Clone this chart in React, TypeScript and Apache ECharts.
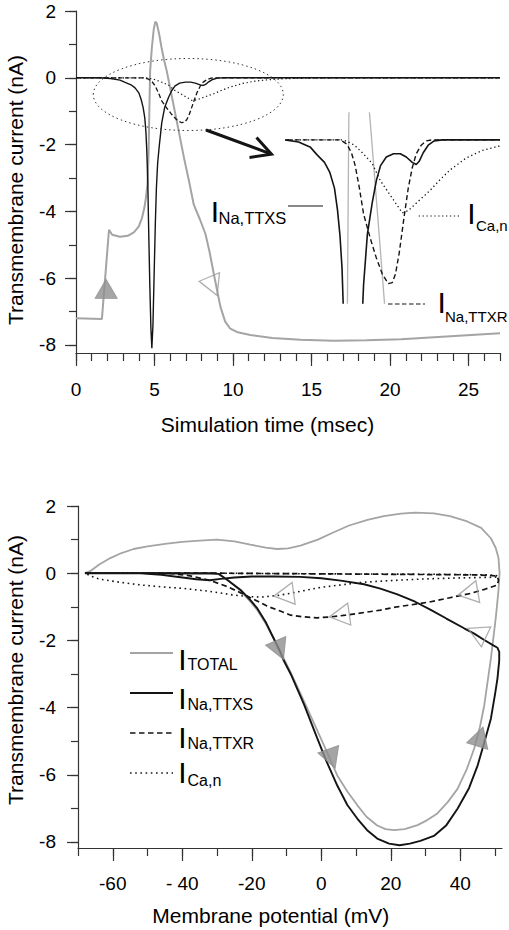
import { useEffect, useRef } from 'react';
import * as echarts from 'echarts';

// ---------- Top panel: time courses (t in msec, I in nA) ----------
const timeTotal: number[][] = [
  [0, -7.2], [1.65, -7.22], [2.1, -4.55], [2.3, -4.7], [2.8, -4.76], [3.3, -4.73], [3.7, -4.62],
  [4.0, -4.45], [4.2, -4.2], [4.35, -3.9], [4.45, -3.6], [4.55, -3.2], [4.62, -2.3], [4.67, -1.0],
  [4.72, 0.2], [4.83, 0.9], [4.95, 1.45], [5.05, 1.68], [5.15, 1.62], [5.3, 1.3], [5.45, 0.9],
  [5.6, 0.55], [5.78, 0.2], [6.1, -0.55], [6.5, -1.5], [6.9, -2.45], [7.2, -3.1], [7.5, -3.8],
  [7.9, -4.25], [8.24, -4.67], [8.5, -5.2], [8.77, -5.86], [9.0, -6.4], [9.2, -6.86], [9.5, -7.3],
  [9.8, -7.5], [10.3, -7.62], [11.1, -7.7], [12.5, -7.79], [14.3, -7.84], [16.4, -7.87],
  [18.5, -7.86], [20.7, -7.83], [22.8, -7.77], [24.9, -7.71], [27, -7.65],
];
const timeNaTTXS: number[][] = [
  [0, 0], [1.5, 0], [2.2, -0.02], [2.8, -0.07], [3.13, -0.14], [3.5, -0.21], [3.76, -0.3],
  [4.0, -0.45], [4.15, -0.65], [4.28, -0.9], [4.38, -1.2], [4.45, -1.6], [4.51, -2.2], [4.57, -3.1],
  [4.63, -4.6], [4.7, -6.2], [4.77, -7.5], [4.83, -8.1], [4.9, -7.4], [4.97, -6.0], [5.05, -4.4],
  [5.12, -3.3], [5.2, -2.55], [5.3, -2.05], [5.46, -1.35], [5.65, -0.88], [5.89, -0.59],
  [6.1, -0.38], [6.31, -0.24], [6.6, -0.16], [6.96, -0.13], [7.3, -0.13], [7.6, -0.16],
  [7.9, -0.21], [8.1, -0.23], [8.25, -0.2], [8.45, -0.12], [8.7, -0.05], [9.0, -0.01], [9.4, 0],
  [27, 0],
];
const timeNaTTXR: number[][] = [
  [0, 0], [4.3, 0], [4.62, -0.04], [4.85, -0.12], [5.04, -0.24], [5.25, -0.45], [5.46, -0.69],
  [5.8, -0.92], [6.1, -1.1], [6.4, -1.25], [6.7, -1.34], [6.9, -1.33], [7.06, -1.25],
  [7.25, -1.05], [7.49, -0.72], [7.7, -0.45], [7.9, -0.26], [8.1, -0.13], [8.35, -0.05],
  [8.6, -0.01], [8.9, 0], [27, 0],
];
const timeCaN: number[][] = [
  [0, 0], [4.4, 0], [4.7, -0.02], [5.0, -0.05], [5.4, -0.12], [5.89, -0.22], [6.3, -0.38],
  [6.96, -0.56], [7.4, -0.68], [7.7, -0.66], [8.1, -0.59], [8.8, -0.47], [9.3, -0.37],
  [9.8, -0.28], [10.6, -0.17], [11.4, -0.1], [12.2, -0.06], [13.2, -0.03], [14.5, -0.01],
  [16, 0], [27, 0],
];

// ---------- Bottom panel: current vs membrane potential (trajectory order) ----------
const phaseTotal: number[][] = [
  [-68, 0], [-60, 0], [-50, 0], [-40, -0.02], [-32, -0.02], [-29.5, -0.03], [-27, -0.2],
  [-23.3, -0.52], [-20.4, -0.85], [-18.4, -1.1], [-16, -1.5], [-13.7, -1.94], [-11, -2.5],
  [-8.8, -2.95], [-4, -4.03], [0.75, -5.12], [4.6, -6.02], [7.5, -6.5], [10.4, -6.91],
  [13, -7.25], [16.1, -7.51], [18.5, -7.62], [20.9, -7.65], [24, -7.62], [27.7, -7.5],
  [30.5, -7.35], [33.4, -7.15], [36.5, -6.8], [39.2, -6.42], [41.8, -5.85], [44, -5.22],
  [45.6, -4.6], [46.9, -3.93], [48.8, -2.54], [50.2, -1.34], [51, -0.5], [51.3, 0], [51, 0.45],
  [50.2, 0.75], [48.8, 1.04], [46, 1.35], [42, 1.54], [37, 1.7], [32.4, 1.78], [27, 1.8],
  [22.9, 1.77], [18, 1.7], [13.3, 1.59], [8, 1.42], [3.6, 1.22], [-1, 1.0], [-6, 0.82],
  [-9.5, 0.74], [-12.7, 0.72], [-16, 0.76], [-20.4, 0.85], [-25, 0.95], [-30, 1.0], [-35, 0.97],
  [-40, 0.93], [-44.4, 0.88], [-50, 0.8], [-54, 0.72], [-57.5, 0.6], [-60.7, 0.45], [-64, 0.25],
  [-66.5, 0.06], [-68, 0],
];
const phaseNaTTXS: number[][] = [
  [-68, 0], [-60, 0], [-52, 0], [-40, 0], [-32, 0], [-29.5, -0.02], [-27, -0.2], [-23.2, -0.5],
  [-20.4, -0.8], [-18.4, -1.05], [-16, -1.45], [-14.6, -1.75], [-12, -2.3], [-10.8, -2.6],
  [-8.8, -3.0], [-5, -3.9], [-1.2, -4.9], [1.5, -5.6], [4.6, -6.32], [7.5, -6.9], [10.4, -7.31],
  [13.2, -7.65], [16.1, -7.9], [19.5, -8.05], [22.5, -8.1], [25.5, -8.05], [28.5, -7.97],
  [32.4, -7.82], [36, -7.5], [39.2, -7.01], [42.5, -6.4], [45, -5.72], [47, -5.0], [48.8, -4.33],
  [50, -3.6], [50.7, -3.13], [51.2, -2.6], [51.2, -2.34], [50.7, -2.22], [49.5, -2.15],
  [46.9, -1.99], [44, -1.8], [41.1, -1.64], [36, -1.35], [31.5, -1.09], [27, -0.85],
  [21.9, -0.63], [17, -0.46], [12.3, -0.33], [5.6, -0.22], [0, -0.15], [-6, -0.11],
  [-13.7, -0.1], [-20, -0.1], [-25, -0.13], [-29, -0.17], [-32, -0.21], [-36, -0.18],
  [-40.5, -0.12], [-46, -0.05], [-52, 0], [-60, 0], [-68, 0],
];
const phaseNaTTXR: number[][] = [
  [-68, 0], [-40, 0], [-30, 0], [0, -0.02], [30, -0.04], [45, -0.05], [50.5, -0.08], [51, -0.2],
  [50.7, -0.35], [47, -0.48], [43, -0.6], [37, -0.73], [31.5, -0.85], [26, -0.94], [21.9, -1.0],
  [17, -1.1], [12.3, -1.17], [7, -1.25], [2.7, -1.3], [-1.2, -1.33], [-5, -1.3], [-8.8, -1.25],
  [-12, -1.12], [-15.6, -0.98], [-18, -0.85], [-20.4, -0.73], [-23.3, -0.58], [-27, -0.4],
  [-31.9, -0.22], [-37.7, -0.08], [-43, -0.01], [-48, 0], [-68, 0],
];
const phaseCaN: number[][] = [
  [-68, 0], [-40, 0], [-30, 0], [0, -0.02], [30, -0.03], [48, -0.05], [51, -0.08], [50, -0.12],
  [40, -0.14], [30, -0.17], [20, -0.22], [12, -0.27], [5.6, -0.35], [0, -0.42], [-5, -0.52],
  [-8.9, -0.6], [-13, -0.67], [-17, -0.71], [-20.4, -0.7], [-25.2, -0.65], [-32.9, -0.53],
  [-40, -0.45], [-44.4, -0.42], [-52, -0.35], [-58, -0.27], [-63.6, -0.18], [-66, -0.1], [-68, 0],
];

// ---------- Direction markers: [x, y, rotation] ----------
const timeFilledArrows: number[][] = [[1.92, -6.32, 0]];
const timeOpenArrows: number[][] = [[8.74, -6.24, 203]];
const phaseFilledArrows: number[][] = [[-12.0, -2.29, 203], [3.0, -5.52, 200], [45.7, -4.86, -17]];
const phaseOpenArrows: number[][] = [[-10.8, -0.64, 98], [5.2, -1.26, 98], [42.2, -0.6, 100], [44.8, -1.77, 65]];

// ---------- Ticks ----------
const timeTicks = [0, 5, 10, 15, 20, 25];
const timeMinorTicks = [0, 1, 2, 3, 4, 5, 6, 7, 8, 9, 10, 11, 12, 13, 14, 15, 16, 17, 18, 19, 20, 21, 22, 23, 24, 25, 26, 27];
const currentTicks = [-8, -6, -4, -2, 0, 2];
const currentMinorTicks = [-8, -7, -6, -5, -4, -3, -2, -1, 0, 1, 2];
const voltageTicks = [-60, -40, -20, 0, 20, 40];
const voltageTickLabels = ['-60', '- 40', '-20', '0', '20', '40'];
const voltageMinorTicks = [-70, -60, -50, -40, -30, -20, -10, 0, 10, 20, 30, 40, 50];

const FONT = 'Arial, "Liberation Sans", Helvetica, sans-serif';
const AXIS_COLOR = '#333';
const GRAY = '#a4a4a4';
const BLACK = '#141414';

function majorAxis(gridIndex: number, min: number, max: number, ticks: number[], pos: string, margin: number, len: number, fmt?: (v: number) => string) {
  return {
    type: 'value', gridIndex, min, max, position: pos,
    axisLine: { show: true, onZero: false, lineStyle: { color: AXIS_COLOR, width: 1.2 } },
    axisTick: { show: true, customValues: ticks, length: len, lineStyle: { color: AXIS_COLOR, width: 1.2 } },
    axisLabel: { show: true, customValues: ticks, margin, fontSize: 19, fontFamily: FONT, color: '#000', formatter: fmt },
    splitLine: { show: false },
  };
}
function minorAxis(gridIndex: number, min: number, max: number, ticks: number[], pos: string, len: number) {
  return {
    type: 'value', gridIndex, min, max, position: pos,
    axisLine: { show: false, onZero: false },
    axisTick: { show: true, customValues: ticks, length: len, lineStyle: { color: AXIS_COLOR, width: 1.2 } },
    axisLabel: { show: false },
    splitLine: { show: false },
  };
}
function hiddenAxis(gridIndex: number, min: number, max: number) {
  return { type: 'value', gridIndex, min, max, show: false, splitLine: { show: false } };
}

function lineSeries(data: number[][], xi: number, color: string, width: number, dash: any, z = 2) {
  return {
    type: 'line', data, xAxisIndex: xi, yAxisIndex: xi, showSymbol: false, symbol: 'none',
    clip: true, z, silent: true,
    lineStyle: { color, width, type: dash },
  };
}
function arrowSeries(points: number[][], xi: number, filled: boolean, size: number[]) {
  return {
    type: 'scatter', xAxisIndex: xi, yAxisIndex: xi, symbol: 'triangle', symbolSize: size, z: 6, silent: true,
    data: points.map((p) => ({ value: [p[0], p[1]], symbolRotate: p[2] })),
    itemStyle: filled
      ? { color: '#8f8f8f', borderColor: '#8f8f8f', borderWidth: 1 }
      : { color: 'rgba(0,0,0,0)', borderColor: '#9a9a9a', borderWidth: 1.3 },
  };
}

function txt(text: string, x: number, y: number, size: number, align = 'left', rotation = 0) {
  return {
    type: 'text', x, y, rotation, z: 10,
    style: { text, fontSize: size, fontFamily: FONT, fill: '#000', align, verticalAlign: 'middle' },
  };
}
function seg(x1: number, y1: number, x2: number, y2: number, color: string, width: number, dash?: number[]) {
  return {
    type: 'line', z: 10,
    shape: { x1, y1, x2, y2 },
    style: { stroke: color, lineWidth: width, lineDash: dash || null },
  };
}

export default function App() {
  const ref = useRef<HTMLDivElement>(null);
  useEffect(() => {
    if (!ref.current) return;
    const chart = echarts.init(ref.current, undefined, { renderer: 'svg' });
    const option: any = {
      animation: false,
      backgroundColor: '#fff',
      grid: [
        { left: 76, top: 11, width: 424, height: 342 },
        { left: 78, top: 506, width: 424, height: 342 },
        { left: 286, top: 113, width: 212, height: 190 },
      ],
      xAxis: [
        majorAxis(0, 0, 27, timeTicks, 'bottom', 27, 13),
        minorAxis(0, 0, 27, timeMinorTicks, 'bottom', 8),
        majorAxis(1, -70, 52, voltageTicks, 'bottom', 26, 13, (v: number) => voltageTickLabels[voltageTicks.indexOf(v)] ?? String(v)),
        minorAxis(1, -70, 52, voltageMinorTicks, 'bottom', 8),
        hiddenAxis(2, 1.57, 12.2),
      ],
      yAxis: [
        majorAxis(0, -8.24, 2, currentTicks, 'left', 20, 11),
        minorAxis(0, -8.24, 2, currentMinorTicks, 'left', 7),
        majorAxis(1, -8.18, 2, currentTicks, 'left', 22, 11),
        minorAxis(1, -8.18, 2, currentMinorTicks, 'left', 7),
        hiddenAxis(2, -1.52, 0.25),
      ],
      series: [
        // top main
        lineSeries(timeTotal, 0, GRAY, 2, 'solid'),
        lineSeries(timeCaN, 0, BLACK, 1.2, [1.3, 2.6]),
        lineSeries(timeNaTTXR, 0, BLACK, 1.3, [4.5, 2.5]),
        lineSeries(timeNaTTXS, 0, BLACK, 1.4, 'solid', 3),
        // inset
        lineSeries(timeTotal, 4, '#b4b4b4', 1.3, 'solid'),
        lineSeries(timeCaN, 4, BLACK, 1.3, [1.3, 2.8]),
        lineSeries(timeNaTTXR, 4, BLACK, 1.4, [5, 3]),
        lineSeries(timeNaTTXS, 4, BLACK, 1.6, 'solid', 3),
        // bottom
        lineSeries(phaseTotal, 2, GRAY, 1.8, 'solid'),
        lineSeries(phaseCaN, 2, BLACK, 1.6, [1.6, 3.6]),
        lineSeries(phaseNaTTXR, 2, BLACK, 1.7, [5.5, 3.5]),
        lineSeries(phaseNaTTXS, 2, BLACK, 1.9, 'solid', 3),
        // markers
        arrowSeries(timeFilledArrows, 0, true, [22, 19]),
        arrowSeries(timeOpenArrows, 0, false, [22, 20]),
        arrowSeries(phaseFilledArrows, 2, true, [22, 20]),
        arrowSeries(phaseOpenArrows, 2, false, [22, 20]),
      ],
      graphic: [
        // axis names
        txt('Simulation time (msec)', 267.5, 424, 21, 'center'),
        txt('Membrane potential (mV)', 270.8, 915, 21, 'center'),
        txt('Transmembrane current (nA)', 15.4, 190, 21, 'center', Math.PI / 2),
        txt('Transmembrane current (nA)', 15.4, 670, 21, 'center', Math.PI / 2),
        // zoom ellipse + arrow
        {
          type: 'ellipse', z: 9,
          shape: { cx: 188.3, cy: 94.5, rx: 95, ry: 36 },
          style: { fill: 'none', stroke: '#333', lineWidth: 1, lineDash: [1.5, 3] },
        },
        seg(206, 130, 270, 153.6, BLACK, 3),
        {
          type: 'polyline', z: 10,
          shape: { points: [[249.5, 157.5], [271.5, 154.2], [256.5, 137.5]] },
          style: { stroke: BLACK, lineWidth: 3, fill: 'none' },
        },
        // top labels
        seg(288, 206, 323, 206, BLACK, 1.2),
        txt('I', 215, 211, 30, 'center'),
        txt('Na,TTXS', 218.5, 217.5, 16.5),
        seg(418.7, 216, 460.3, 216, BLACK, 1.2, [1.3, 2.6]),
        txt('I', 471.5, 213.5, 30, 'center'),
        txt('Ca,n', 476, 225.5, 15),
        seg(388, 304, 425, 304, BLACK, 1.2, [4.5, 2.5]),
        txt('I', 441.7, 302, 30, 'center'),
        txt('Na,TTXR', 445, 316, 15),
        // bottom legend
        seg(130, 653, 173, 653, GRAY, 1.8),
        txt('I', 182.5, 659, 30, 'center'),
        txt('TOTAL', 187.5, 664.5, 16),
        seg(130, 693, 173, 693, BLACK, 1.8),
        txt('I', 182.5, 698, 30, 'center'),
        txt('Na,TTXS', 187.5, 704, 16),
        seg(130, 733, 172, 733, BLACK, 1.6, [5.5, 3.5]),
        txt('I', 182.5, 737, 30, 'center'),
        txt('Na,TTXR', 187.5, 743, 16),
        seg(130, 773, 173, 773, BLACK, 1.6, [1.6, 3.6]),
        txt('I', 182.5, 772, 30, 'center'),
        txt('Ca,n', 187.5, 780, 16),
      ],
    };
    chart.setOption(option);
    return () => chart.dispose();
  }, []);
  return <div ref={ref} style={{ position: 'fixed', left: 0, top: 0, width: 509, height: 930, background: '#fff' }} />;
}
